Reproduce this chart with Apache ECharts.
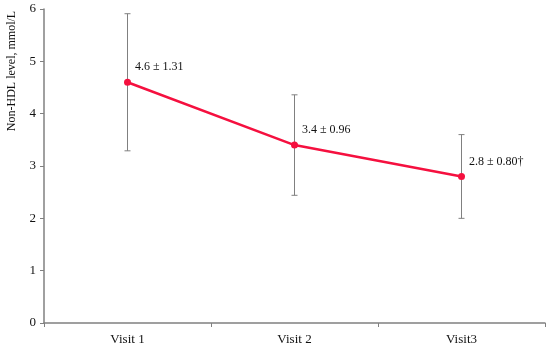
<!DOCTYPE html>
<html><head><meta charset="utf-8">
<script src="https://cdn.jsdelivr.net/npm/echarts@6/dist/echarts.min.js"></script>
<style>html,body{margin:0;padding:0;background:#fff}#c{width:550px;height:349px}</style>
</head><body><div id="c"></div>
<script>
var categories = ['Visit 1', 'Visit 2', 'Visit3'];
var means = [4.6, 3.4, 2.8];
var sds = [1.31, 0.96, 0.80];
var labels = ['4.6 \u00b1 1.31', '3.4 \u00b1 0.96', '2.8 \u00b1 0.80\u2020'];
var yTicks = [0, 1, 2, 3, 4, 5, 6];

var FONT = '"Liberation Serif", "DejaVu Serif", serif';
var RED = '#f5103f';
var GRAY = '#808080';

var chart = echarts.init(document.getElementById('c'), null, {renderer: 'canvas'});
var errData = categories.map(function (c, i) { return [i, means[i] - sds[i], means[i] + sds[i]]; });

chart.setOption({
  animation: false,
  grid: {left: 44, right: 5, top: 9, bottom: 26, containLabel: false},
  xAxis: {
    type: 'category', data: categories, boundaryGap: true,
    axisLine: {lineStyle: {color: GRAY, width: 1.5}},
    axisTick: {show: true, length: 4, lineStyle: {color: GRAY}},
    axisLabel: {color: '#111', fontFamily: FONT, fontSize: 13, margin: 10}
  },
  yAxis: {
    type: 'value', min: yTicks[0], max: yTicks[yTicks.length - 1], interval: 1,
    splitLine: {show: false},
    axisLine: {show: true, lineStyle: {color: GRAY, width: 1.5}},
    axisTick: {show: true, length: 4, lineStyle: {color: GRAY}},
    axisLabel: {color: '#111', fontFamily: FONT, fontSize: 13, margin: 8}
  },
  graphic: [{
    type: 'text', x: 12, y: 71, rotation: Math.PI / 2,
    style: {text: 'Non-HDL level, mmol/L', font: '12px ' + FONT, fill: '#111', align: 'center', verticalAlign: 'middle'}
  }],
  series: [{
    type: 'custom', data: errData, z: 1,
    renderItem: function (params, api) {
      var x = api.value(0);
      var lo = api.coord([x, api.value(1)]);
      var hi = api.coord([x, api.value(2)]);
      var w = 3;
      var st = {stroke: GRAY, lineWidth: 1};
      return {type: 'group', children: [
        {type: 'line', shape: {x1: lo[0], y1: lo[1], x2: hi[0], y2: hi[1]}, style: st},
        {type: 'line', shape: {x1: lo[0] - w, y1: lo[1], x2: lo[0] + w, y2: lo[1]}, style: st},
        {type: 'line', shape: {x1: hi[0] - w, y1: hi[1], x2: hi[0] + w, y2: hi[1]}, style: st}
      ]};
    }
  }, {
    type: 'line', data: means, z: 3,
    symbol: 'circle', symbolSize: 7,
    lineStyle: {color: RED, width: 2.5},
    itemStyle: {color: RED},
    label: {
      show: true, position: 'right', distance: 4, offset: [0, -15],
      fontFamily: FONT, fontSize: 12, color: '#111',
      formatter: function (p) { return labels[p.dataIndex]; }
    }
  }]
});
</script></body></html>
